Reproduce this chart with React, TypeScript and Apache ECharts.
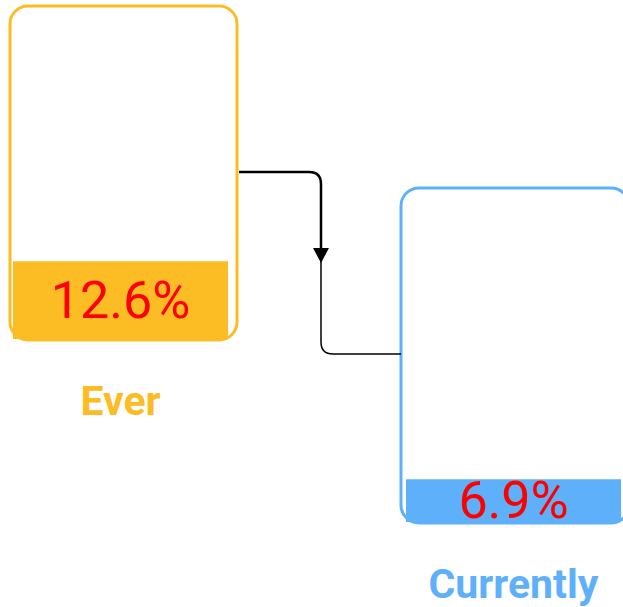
import React, { useEffect, useRef } from "react";
import * as echarts from "echarts";

const categories = ["Ever", "Currently"];
const values = [12.6, 6.9];
const colors = ["#FBBC24", "#5FB0FA"];
const yMax = 50;

const W = 623;
const H = 607;

export default function App() {
  const ref = useRef<HTMLDivElement>(null);
  useEffect(() => {
    if (!ref.current) return;
    try {
      echarts.graphic.registerShape(
        "connTop",
        echarts.graphic.extendPath("M239 172 L309 172 Q321 172 321 184 L321 250", {})
      );
      echarts.graphic.registerShape(
        "connBottom",
        echarts.graphic.extendPath("M321 258 L321 342 Q321 354 333 354 L401 354", {})
      );
    } catch (e) {}
    const chart = echarts.init(ref.current, undefined, { renderer: "svg" });
    const grids = [
      { left: 13, width: 215, top: 30, height: 309 },
      { left: 406, width: 215, top: 213, height: 309 },
    ];
    const option: any = {
      animation: false,
      backgroundColor: "#ffffff",
      grid: grids,
      xAxis: categories.map((c, i) => ({
        type: "category",
        gridIndex: i,
        data: [c],
        axisLine: { show: false },
        axisTick: { show: false },
        splitLine: { show: false },
        axisLabel: {
          margin: 41,
          color: colors[i],
          fontSize: 41,
          fontWeight: "bold",
          fontFamily: "Roboto, sans-serif",
        },
      })),
      yAxis: categories.map((c, i) => ({
        type: "value",
        gridIndex: i,
        min: 0,
        max: yMax,
        show: false,
        splitLine: { show: false },
      })),
      series: categories.map((c, i) => ({
        type: "bar",
        xAxisIndex: i,
        yAxisIndex: i,
        barWidth: "100%",
        data: [values[i]],
        z: 3,
        itemStyle: { color: colors[i] },
        label: {
          show: true,
          position: "inside",
          color: "#FF0000",
          fontSize: 52,
          fontFamily: "Roboto, sans-serif",
          formatter: (p: any) => `${p.value}%`,
        },
      })),
      graphic: [
        {
          type: "rect",
          z: 1,
          shape: { x: 10, y: 6, width: 227, height: 334, r: 18 },
          style: { fill: "none", stroke: colors[0], lineWidth: 3 },
        },
        {
          type: "rect",
          z: 1,
          shape: { x: 401, y: 188, width: 228, height: 335, r: 18 },
          style: { fill: "none", stroke: colors[1], lineWidth: 3 },
        },
        {
          type: "connTop",
          z: 2,
          style: { fill: "none", stroke: "#000000", lineWidth: 2.5 },
        },
        {
          type: "connBottom",
          z: 2,
          style: { fill: "none", stroke: "#000000", lineWidth: 1.5 },
        },
        {
          type: "polygon",
          z: 2,
          shape: { points: [[313, 248], [329, 248], [321, 263]] },
          style: { fill: "#000000" },
        },
      ],
    };
    chart.setOption(option);
    return () => chart.dispose();
  }, []);
  return (
    <div
      ref={ref}
      style={{ position: "fixed", left: 0, top: 0, width: W, height: H }}
    />
  );
}
